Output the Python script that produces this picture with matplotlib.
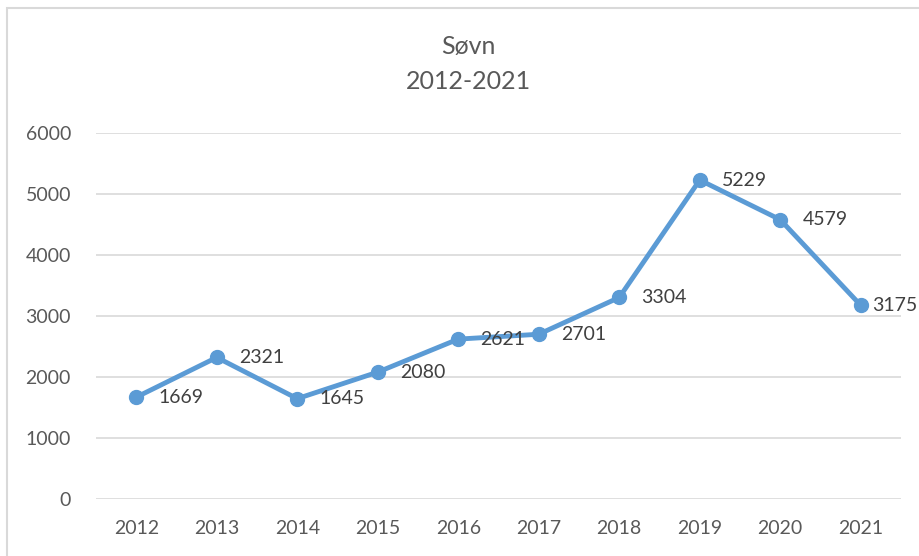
import matplotlib
matplotlib.use("Agg")
import matplotlib.pyplot as plt
from matplotlib.patches import Rectangle

years = ["2012", "2013", "2014", "2015", "2016", "2017", "2018", "2019", "2020", "2021"]
values = [1669, 2321, 1645, 2080, 2621, 2701, 3304, 5229, 4579, 3175]
yticks = [0, 1000, 2000, 3000, 4000, 5000, 6000]
title = "Søvn\n2012-2021"

plt.rcParams['font.family'] = ['Lato', 'DejaVu Sans']
txt = "#595959"
blue = "#5B9BD5"

fig = plt.figure(figsize=(9.2, 5.56), dpi=100)
fig.patches.append(Rectangle((7.5/920, -0.1), 1.2, 1 - 7.5/556 + 0.1, transform=fig.transFigure,
                             fill=False, edgecolor="#D9D9D9", linewidth=1.5))
ax = fig.add_axes([96/920, 1 - 499/556, (901 - 96)/920, (499 - 133)/556])
x = list(range(len(years)))
ax.plot(x, values, color=blue, linewidth=3.5, marker="o", markersize=10, zorder=3, clip_on=False)
for i, (xi, v) in enumerate(zip(x, values)):
    off = 16 if i < len(values) - 1 else 8.5
    ax.annotate(str(v), (xi, v), xytext=(off, 0), textcoords="offset points",
                ha="left", va="center", fontsize=14, color="#404040", annotation_clip=False)
ax.set_xlim(-0.5, len(years) - 0.5)
ax.set_ylim(0, 6000)
ax.set_yticks(yticks)
ax.set_yticklabels([str(t) for t in yticks])
ax.set_xticks(x)
ax.set_xticklabels(years)
ax.tick_params(axis="both", length=0, labelsize=14, labelcolor=txt)
ax.tick_params(axis="y", pad=18)
ax.tick_params(axis="x", pad=15)
ax.grid(axis="y", color="#D9D9D9", linewidth=1.2)
ax.set_axisbelow(True)
for s in ax.spines.values():
    s.set_visible(False)
fig.text(468/920, 1 - 64/556, title, ha="center", va="center", fontsize=18, color=txt, linespacing=1.65)
fig.savefig("out.png", dpi=100)
